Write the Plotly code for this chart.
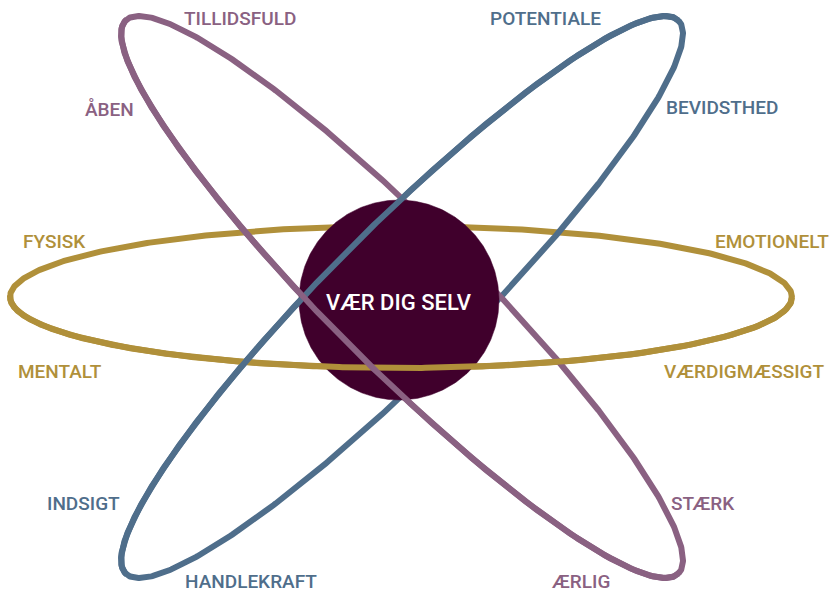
import numpy as np
import plotly.graph_objects as go

# Orbits (ellipses) in pixel-space coordinates
orbit_names = ["gold", "blue", "purple"]
orbit_colors = ["#B0903A", "#4F6E8B", "#8A6182"]
orbit_cx = [401, 402, 402]
orbit_cy = [297, 297, 297]
orbit_a = [391, 391, 391]
orbit_b = [71, 71, 71]
orbit_angle_deg = [0, 45, -45]   # screen angle of major axis (positive = up-right)

# Centre circle
core_cx, core_cy, core_r = 399, 300, 100
core_color = "#40002C"
core_text = "VÆR DIG SELV"

# Labels
label_texts = ["TILLIDSFULD", "ÅBEN", "POTENTIALE", "BEVIDSTHED", "FYSISK", "EMOTIONELT",
               "MENTALT", "VÆRDIGMÆSSIGT", "INDSIGT", "STÆRK", "HANDLEKRAFT", "ÆRLIG"]
label_x = [240, 109, 545, 722, 54, 772, 60, 744, 83, 703, 251, 580]
label_y = [18, 109, 18, 107, 241, 241, 371, 371, 503, 503, 581, 581]
label_orbit = [2, 2, 1, 1, 0, 0, 0, 0, 1, 2, 1, 2]

W, H = 832, 594


def ellipse(cx, cy, a, b, ang, t):
    th = np.deg2rad(ang)
    # major axis direction (screen, y down)
    u = np.array([np.cos(th), -np.sin(th)])
    # minor axis direction: the "front" side
    if ang == 0:
        v = np.array([0.0, 1.0])                       # lower side
    elif ang > 0:
        v = np.array([-np.sin(th), -np.cos(th)])       # upper-left side
    else:
        v = np.array([-abs(np.sin(th)), abs(np.cos(th))])  # lower-left side
    x = cx + a * np.cos(t) * u[0] + b * np.sin(t) * v[0]
    y = cy + a * np.cos(t) * u[1] + b * np.sin(t) * v[1]
    return x, y


fig = go.Figure()

t_full = np.linspace(0, 2 * np.pi, 721)
for i in range(3):
    x, y = ellipse(orbit_cx[i], orbit_cy[i], orbit_a[i], orbit_b[i], orbit_angle_deg[i], t_full)
    fig.add_trace(go.Scatter(x=x, y=y, mode="lines",
                             line=dict(color=orbit_colors[i], width=6),
                             hoverinfo="skip", showlegend=False))

# centre circle
tc = np.linspace(0, 2 * np.pi, 361)
fig.add_trace(go.Scatter(x=core_cx + core_r * np.cos(tc), y=core_cy + core_r * np.sin(tc),
                         mode="lines", fill="toself", fillcolor=core_color,
                         line=dict(color=core_color, width=0.5),
                         hoverinfo="skip", showlegend=False))

# front halves of orbits
t_half = np.linspace(-0.02, np.pi + 0.02, 361)
for i in range(3):
    x, y = ellipse(orbit_cx[i], orbit_cy[i], orbit_a[i], orbit_b[i], orbit_angle_deg[i], t_half)
    fig.add_trace(go.Scatter(x=x, y=y, mode="lines",
                             line=dict(color=orbit_colors[i], width=6),
                             hoverinfo="skip", showlegend=False))

annotations = []
for txt, lx, ly, oi in zip(label_texts, label_x, label_y, label_orbit):
    annotations.append(dict(x=lx, y=ly, xref="x", yref="y", text=txt, showarrow=False,
                            font=dict(family="Roboto", size=19, weight=500,
                                      color=orbit_colors[oi])))
annotations.append(dict(x=core_cx, y=302, xref="x", yref="y", text=core_text, showarrow=False,
                        font=dict(family="Roboto", size=22, weight=500, color="white")))

fig.update_layout(
    width=W, height=H,
    margin=dict(l=0, r=0, t=0, b=0),
    paper_bgcolor="white", plot_bgcolor="white",
    xaxis=dict(range=[0, W], visible=False, fixedrange=True),
    yaxis=dict(range=[H, 0], visible=False, fixedrange=True),
    annotations=annotations,
    showlegend=False,
)

fig.write_html("out.html",
               config={"displayModeBar": False, "staticPlot": True},
               post_script="document.body.style.margin='0';document.body.style.overflow='hidden';")
